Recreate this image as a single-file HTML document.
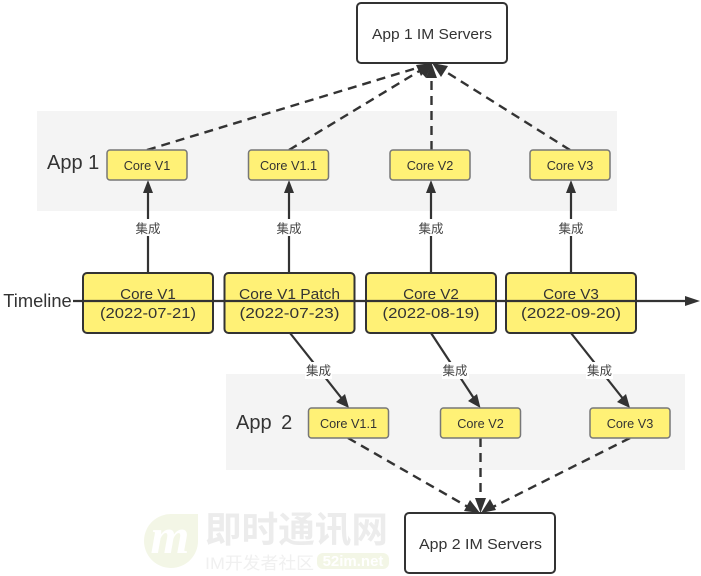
<!DOCTYPE html>
<html>
<head>
<meta charset="utf-8">
<style>
html,body{margin:0;padding:0;background:#fff;width:701px;height:576px;overflow:hidden}
svg{display:block}
text{font-family:"Liberation Sans","Noto Sans CJK SC",sans-serif;fill:#333;text-anchor:middle}
.s{font-size:12.7px}
.b{font-size:15.2px}
.a{font-size:20px;text-anchor:start}
.l{font-size:12.5px;fill:#444}
.small{fill:#fff176;stroke:#777;stroke-width:1.5}
.big{fill:#fff176;stroke:#333;stroke-width:2}
.srv{fill:#fff;stroke:#333;stroke-width:2}
.ln{stroke:#333;stroke-width:2.2;fill:none}
.d{stroke:#333;stroke-width:2.4;fill:none;stroke-dasharray:9 6}
.h{fill:#333}
</style>
</head>
<body>
<svg width="701" height="576" viewBox="0 0 701 576" xmlns="http://www.w3.org/2000/svg">
<rect width="701" height="576" fill="#fff"/>
<!-- bands -->
<rect x="37" y="111" width="580" height="100" fill="#f4f4f4"/>
<rect x="226" y="374" width="459" height="96" fill="#f4f4f4"/>

<!-- watermark -->
<path d="M198 514 L172 514 A27 27 0 1 0 198 541 Z" fill="#f3f6e6"/>
<text x="170" y="553" style="font-family:'Liberation Serif',serif;font-style:italic;font-weight:bold;font-size:50px;fill:#fff">m</text>
<text x="205" y="542" style="font-size:36px;font-weight:bold;fill:#ececec;text-anchor:start" textLength="183" lengthAdjust="spacingAndGlyphs">即时通讯网</text>
<text x="205" y="569" style="font-size:17px;fill:#f0f0f0;text-anchor:start" textLength="109" lengthAdjust="spacingAndGlyphs">IM开发者社区</text>
<rect x="317" y="553" width="72" height="16" rx="6" fill="#f3f6e6"/>
<text x="353" y="566" style="font-size:15px;font-weight:bold;fill:#fff">52im.net</text>

<!-- dashed to App 1 server -->
<line class="d" x1="147" y1="150" x2="420" y2="67"/>
<line class="d" x1="289" y1="150" x2="421" y2="70"/>
<line class="d" x1="431.500" y1="150" x2="431.500" y2="75"/>
<line class="d" x1="570" y1="150" x2="443" y2="70"/>
<polygon class="h" points="432,63 421,76 416,65"/>
<polygon class="h" points="432,63 426,78 418,69"/>
<polygon class="h" points="431.500,63 437,78 426,78"/>
<polygon class="h" points="432,63 448,66 441,77"/>

<!-- dashed to App 2 server -->
<line class="d" x1="348" y1="438" x2="468" y2="507"/>
<line class="d" x1="480.500" y1="438" x2="480.500" y2="502"/>
<line class="d" x1="630" y1="438" x2="493" y2="507"/>
<polygon class="h" points="480,513 464,511 470,500"/>
<polygon class="h" points="480.500,513 475,498 486,498"/>
<polygon class="h" points="481,513 490,499 496,510"/>

<!-- solid connectors up -->
<line class="ln" x1="148" y1="273" x2="148" y2="190"/>
<polygon class="h" points="148,180 153,193 143,193"/>
<line class="ln" x1="289" y1="273" x2="289" y2="190"/>
<polygon class="h" points="289,180 294,193 284,193"/>
<line class="ln" x1="431" y1="273" x2="431" y2="190"/>
<polygon class="h" points="431,180 436,193 426,193"/>
<line class="ln" x1="571" y1="273" x2="571" y2="190"/>
<polygon class="h" points="571,180 576,193 566,193"/>

<!-- solid connectors down -->
<line class="ln" x1="290" y1="333" x2="343" y2="400"/>
<polygon class="h" points="349,408 336,402 345,394"/>
<line class="ln" x1="431" y1="333" x2="475" y2="400"/>
<polygon class="h" points="480.500,408 468,401 477,394"/>
<line class="ln" x1="571" y1="333" x2="624" y2="400"/>
<polygon class="h" points="630,408 617,402 626,394"/>

<!-- label backgrounds -->
<rect x="135" y="219" width="27" height="17" fill="#fff"/>
<rect x="276" y="219" width="27" height="17" fill="#fff"/>
<rect x="417" y="219" width="28" height="17" fill="#fff"/>
<rect x="557" y="219" width="28" height="17" fill="#fff"/>
<rect x="305" y="362" width="27" height="17" fill="#fff"/>
<rect x="442" y="362" width="27" height="17" fill="#fff"/>
<rect x="586" y="362" width="27" height="17" fill="#fff"/>
<text class="l" x="148" y="233">集成</text>
<text class="l" x="289" y="233">集成</text>
<text class="l" x="431" y="233">集成</text>
<text class="l" x="571" y="233">集成</text>
<text class="l" x="318.500" y="375">集成</text>
<text class="l" x="455" y="375">集成</text>
<text class="l" x="599.500" y="375">集成</text>

<!-- App 1 small -->
<rect class="small" x="107" y="150" width="80" height="30" rx="3"/>
<rect class="small" x="248.500" y="150" width="80" height="30" rx="3"/>
<rect class="small" x="390" y="150" width="80" height="30" rx="3"/>
<rect class="small" x="530" y="150" width="80" height="30" rx="3"/>
<text class="s" x="147" y="170">Core V1</text>
<text class="s" x="288.500" y="170">Core V1.1</text>
<text class="s" x="430" y="170">Core V2</text>
<text class="s" x="570" y="170">Core V3</text>

<!-- App 2 small -->
<rect class="small" x="308.500" y="408" width="80" height="30" rx="3"/>
<rect class="small" x="440.500" y="408" width="80" height="30" rx="3"/>
<rect class="small" x="590" y="408" width="80" height="30" rx="3"/>
<text class="s" x="348.500" y="428">Core V1.1</text>
<text class="s" x="480.500" y="428">Core V2</text>
<text class="s" x="630" y="428">Core V3</text>

<!-- Timeline boxes -->
<rect class="big" x="83" y="273" width="130" height="60" rx="4"/>
<rect class="big" x="224.500" y="273" width="130" height="60" rx="4"/>
<rect class="big" x="366" y="273" width="130" height="60" rx="4"/>
<rect class="big" x="506" y="273" width="130" height="60" rx="4"/>
<text class="b" x="148" y="299">Core V1</text>
<text class="b" x="148" y="318" textLength="96" lengthAdjust="spacingAndGlyphs">(2022-07-21)</text>
<text class="b" x="289.500" y="299" textLength="101" lengthAdjust="spacingAndGlyphs">Core V1 Patch</text>
<text class="b" x="289.500" y="318" textLength="100" lengthAdjust="spacingAndGlyphs">(2022-07-23)</text>
<text class="b" x="431" y="299">Core V2</text>
<text class="b" x="431" y="318" textLength="97" lengthAdjust="spacingAndGlyphs">(2022-08-19)</text>
<text class="b" x="571" y="299">Core V3</text>
<text class="b" x="571" y="318" textLength="100" lengthAdjust="spacingAndGlyphs">(2022-09-20)</text>

<!-- Timeline -->
<line class="ln" x1="73" y1="301" x2="688" y2="301"/>
<polygon class="h" points="700,301 685,296 685,306"/>
<text x="37.500" y="307" style="font-size:18.300px">Timeline</text>

<!-- App labels -->
<text class="a" x="47" y="169">App 1</text>
<text class="a" x="236" y="429" word-spacing="4">App 2</text>

<!-- servers -->
<rect class="srv" x="357" y="3" width="150" height="60" rx="4"/>
<rect class="srv" x="405" y="513" width="150" height="60" rx="4"/>
<text class="b" x="432" y="39" textLength="120" lengthAdjust="spacingAndGlyphs">App 1 IM Servers</text>
<text class="b" x="480.500" y="549" textLength="123" lengthAdjust="spacingAndGlyphs">App 2 IM Servers</text>
</svg>
</body>
</html>
